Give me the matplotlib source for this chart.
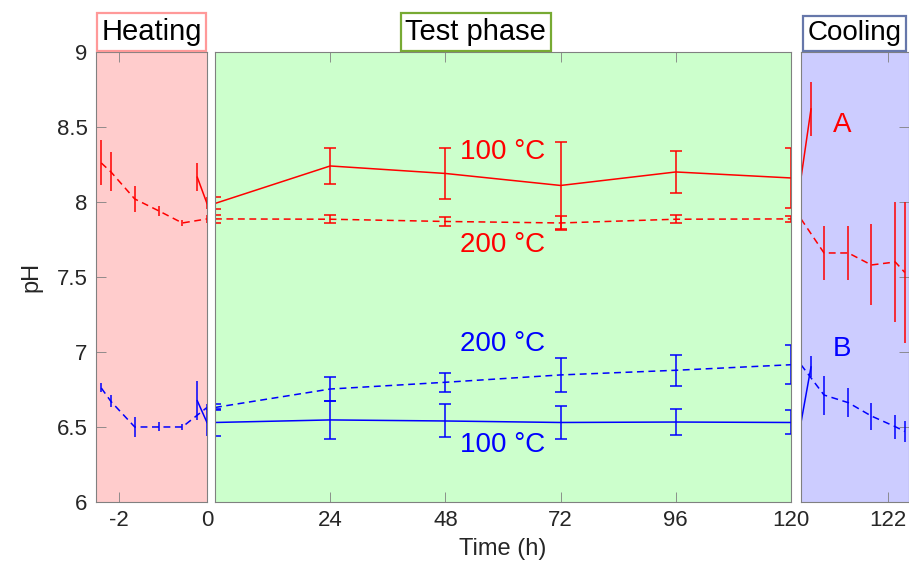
"""
pH during heating, test phase and cooling (broken time axis)
"""
import matplotlib
matplotlib.use("Agg")
import matplotlib.pyplot as plt

plt.rcParams["font.family"] = ["Liberation Sans", "DejaVu Sans"]
plt.rcParams["axes.unicode_minus"] = False

# heating phase (h before test start)
heat_t_200 = [-2.4, -2.18, -1.64, -1.09, -0.56, 0]
heat_A200 = [8.26, 8.20, 8.02, 7.94, 7.86, 7.887]
heat_A200_err = [0.15, 0.13, 0.085, 0.035, 0.02, 0.025]
heat_B200 = [6.76, 6.67, 6.50, 6.50, 6.50, 6.63]
heat_B200_err = [0.03, 0.04, 0.065, 0.03, 0.02, 0.02]
heat_t_100 = [-0.22, 0]
heat_A100 = [8.165, 7.99]
heat_A100_err = [0.095, 0.04]
heat_B100 = [6.675, 6.53]
heat_B100_err = [0.13, 0.09]

# test phase
test_t = [0, 24, 48, 72, 96, 120]
test_A100 = [7.99, 8.24, 8.19, 8.11, 8.20, 8.16]
test_A100_err = [0.04, 0.12, 0.17, 0.29, 0.14, 0.20]
test_A200 = [7.887, 7.885, 7.87, 7.86, 7.885, 7.887]
test_A200_err = [0.025, 0.025, 0.03, 0.045, 0.025, 0.02]
test_B200 = [6.63, 6.753, 6.798, 6.847, 6.878, 6.915]
test_B200_err = [0.02, 0.08, 0.065, 0.115, 0.105, 0.13]
test_B100 = [6.53, 6.547, 6.54, 6.53, 6.533, 6.53]
test_B100_err = [0.09, 0.125, 0.11, 0.11, 0.085, 0.08]

# cooling phase
cool_t_200 = [120, 120.53, 121.09, 121.62, 122.17, 122.39]
cool_A200 = [7.887, 7.66, 7.66, 7.58, 7.60, 7.53]
cool_A200_err = [0.02, 0.18, 0.18, 0.27, 0.40, 0.47]
cool_B200 = [6.915, 6.713, 6.662, 6.573, 6.502, 6.47]
cool_B200_err = [0.13, 0.13, 0.095, 0.09, 0.08, 0.07]
cool_t_100 = [120, 120.23]
cool_A100 = [8.16, 8.62]
cool_A100_err = [0.20, 0.18]
cool_B100 = [6.53, 6.90]
cool_B100_err = [0.08, 0.07]

red = "#ff0000"
blue = "#0000ff"
gray = "#808080"
txt = "#262626"
lw = 1.1
dash = (0, (4.5, 3))

fig = plt.figure(figsize=(9.09, 5.66), dpi=100)
bottom, height = 0.1131, 0.7951
ax_h = fig.add_axes([0.1056, bottom, 0.1221, height], facecolor="#ffcccc")
ax_t = fig.add_axes([0.2365, bottom, 0.6337, height], facecolor="#ccffcc")
ax_c = fig.add_axes([0.8812, bottom, 0.1185, height], facecolor="#ccccff")


def series(ax, t, y, err, color, ls, cap):
    ax.errorbar(t, y, yerr=err, color=color, lw=lw, ls=ls, elinewidth=lw,
                capsize=cap, capthick=lw)


series(ax_h, heat_t_200, heat_A200, heat_A200_err, red, dash, 0)
series(ax_h, heat_t_100, heat_A100, heat_A100_err, red, "-", 0)
series(ax_h, heat_t_200, heat_B200, heat_B200_err, blue, dash, 0)
series(ax_h, heat_t_100, heat_B100, heat_B100_err, blue, "-", 0)

series(ax_t, test_t, test_A100, test_A100_err, red, "-", 4)
series(ax_t, test_t, test_A200, test_A200_err, red, dash, 4)
series(ax_t, test_t, test_B200, test_B200_err, blue, dash, 4)
series(ax_t, test_t, test_B100, test_B100_err, blue, "-", 4)

series(ax_c, cool_t_200, cool_A200, cool_A200_err, red, dash, 0)
series(ax_c, cool_t_100, cool_A100, cool_A100_err, red, "-", 0)
series(ax_c, cool_t_200, cool_B200, cool_B200_err, blue, dash, 0)
series(ax_c, cool_t_100, cool_B100, cool_B100_err, blue, "-", 0)

ax_h.set_xlim(-2.52, 0)
ax_t.set_xlim(0, 120)
ax_c.set_xlim(120, 122.48)
ax_h.set_xticks([-2, 0])
ax_t.set_xticks([24, 48, 72, 96, 120])
ax_c.set_xticks([122])

for ax in (ax_h, ax_t, ax_c):
    ax.set_ylim(6, 9)
    for s in ax.spines.values():
        s.set_color(gray)
        s.set_linewidth(0.8)
    ax.tick_params(direction="in", length=7, width=0.6, color=gray,
                   labelcolor=txt, labelsize=16, top=True, pad=6)

ax_h.set_yticks([6, 6.5, 7, 7.5, 8, 8.5, 9])
ax_h.set_yticklabels(["6", "6.5", "7", "7.5", "8", "8.5", "9"])
ax_h.tick_params(axis="y", left=True, right=False)
ax_t.tick_params(axis="y", left=False, right=False, labelleft=False)
ax_c.set_yticks([6, 6.5, 7, 7.5, 8, 8.5, 9])
ax_c.tick_params(axis="y", left=False, right=True, labelleft=False)

ax_h.set_ylabel("pH", fontsize=17, color=txt, labelpad=10)
ax_t.set_xlabel("Time (h)", fontsize=17, color=txt, labelpad=5)

# phase titles
box = dict(boxstyle="square,pad=0.16", fc="white", lw=1.6)
ax_h.text(0.5, 1.013, "Heating", transform=ax_h.transAxes, ha="center",
          va="bottom", fontsize=21, bbox=dict(box, ec="#ff9999"))
ax_t.text(0.453, 1.013, "Test phase", transform=ax_t.transAxes, ha="center",
          va="bottom", fontsize=21, bbox=dict(box, ec="#77aa33"))
ax_c.text(0.5, 1.013, "Cooling", transform=ax_c.transAxes, ha="center",
          va="bottom", fontsize=20, bbox=dict(box, ec="#6677aa"))

# curve labels
ax_t.text(60, 8.33, "100 °C", color=red, fontsize=20, ha="center", va="center")
ax_t.text(60, 7.71, "200 °C", color=red, fontsize=20, ha="center", va="center")
ax_t.text(60, 7.05, "200 °C", color=blue, fontsize=20, ha="center", va="center")
ax_t.text(60, 6.38, "100 °C", color=blue, fontsize=20, ha="center", va="center")
ax_c.text(120.95, 8.51, "A", color=red, fontsize=20, ha="center", va="center")
ax_c.text(120.95, 7.02, "B", color=blue, fontsize=20, ha="center", va="center")

fig.savefig("out.png", dpi=100)
